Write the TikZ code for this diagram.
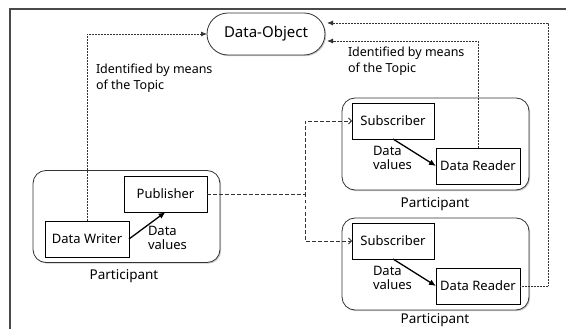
\documentclass[tikz,border=0pt]{standalone}
\usepackage{fontspec}
\setmainfont{Noto Sans}
\usetikzlibrary{arrows.meta,shapes.misc,shadows,calc}
\definecolor{edge}{HTML}{333333}
\definecolor{framegray}{HTML}{4A4A4A}
\begin{document}
\begin{tikzpicture}[x=1pt,y=-1pt,
  every node/.style={inner sep=0pt, outer sep=0pt, text=black},
  objbox/.style={rounded rectangle, draw=edge, line width=0.8pt, fill=white,
    minimum width=118pt, minimum height=42pt, font=\fontsize{15}{17}\selectfont,
    drop shadow={shadow xshift=1.2pt, shadow yshift=-1.2pt, opacity=0.4}},
  partbox/.style={draw=edge, line width=0.8pt, fill=white, rounded corners=13pt,
    minimum width=187pt, minimum height=92pt,
    drop shadow={shadow xshift=1.2pt, shadow yshift=-1.2pt, opacity=0.4}},
  entbox/.style={draw=black, line width=0.8pt, fill=white,
    minimum height=36pt, font=\fontsize{13}{15}\selectfont},
  partlabel/.style={font=\fontsize{13.5}{15}\selectfont},
  notelabel/.style={align=left, anchor=west, font=\fontsize{12.5}{16.5}\selectfont},
  flowlabel/.style={align=left, anchor=west, font=\fontsize{13}{13.5}\selectfont},
  topiclink/.style={draw=edge, line width=0.8pt, dash pattern=on 0.8pt off 0.7pt,
    -{Latex[length=6pt,width=5pt]}},
  publink/.style={draw=edge, line width=0.8pt, dash pattern=on 3.5pt off 2.5pt,
    -{Straight Barb[length=3pt,width=6pt]}},
  datalink/.style={draw=black, line width=1.3pt, -{Latex[length=7pt,width=6pt]}}
]
\useasboundingbox (0,0) rectangle (566,329);

% outer frame, open to the right and bottom
\draw[framegray, line width=1.4pt] (10,329) -- (10,9) -- (566,9);

% shared data object
\node[objbox] (dobj) at (266,34) {Data-Object};

% publishing participant
\node[partbox] (ppub) at (126.5,216.5) {};
\node[entbox, minimum width=83pt] (pub) at (165.5,194) {Publisher};
\node[entbox, minimum width=84pt] (writer) at (87,239) {Data Writer};
\node[partlabel] (ppubl) at (124,276) {Participant};

% first subscribing participant
\node[partbox] (psubA) at (435.5,144) {};
\node[entbox, minimum width=82pt] (subA) at (393,121) {Subscriber};
\node[entbox, minimum width=84pt] (readA) at (478,166) {Data Reader};
\node[partlabel] (psubAl) at (435,204) {Participant};

% second subscribing participant
\node[partbox] (psubB) at (435.5,264) {};
\node[entbox, minimum width=82pt] (subB) at (393,241) {Subscriber};
\node[entbox, minimum width=84pt] (readB) at (478,286) {Data Reader};
\node[partlabel] (psubBl) at (435,320) {Participant};

% topic notes
\node[notelabel] (noteL) at (96,78) {Identified by means\\of the Topic};
\node[notelabel] (noteR) at (348,61) {Identified by means\\of the Topic};

% data flow inside each participant
\draw[datalink] (writer.east) -- (pub.south);
\node[flowlabel] (dvL) at (148,238) {Data\\values};
\draw[datalink] (subA.south) -- (readA.west);
\node[flowlabel] (dvA) at (373,158) {Data\\values};
\draw[datalink] (subB.south) -- (readB.west);
\node[flowlabel] (dvB) at (373,278) {Data\\values};

% publisher to subscribers
\coordinate (split) at ($(pub.east)+(98,0)$);
\draw[publink] (pub.east) -- (split) |- (subA.west);
\draw[publink] (split) |- (subB.west);

% topic references to the data object
\coordinate (inA) at ($(dobj.east)+(2,7)$);
\coordinate (inB) at ($(dobj.east)+(2,-11)$);
\coordinate (outB) at ($(readB.east)+(28,0)$);
\draw[topiclink] (writer.north) |- (dobj.west);
\draw[topiclink] (readA.north) |- (inA);
\draw[topiclink] (readB.east) -- (outB) |- (inB);
\end{tikzpicture}
\end{document}
